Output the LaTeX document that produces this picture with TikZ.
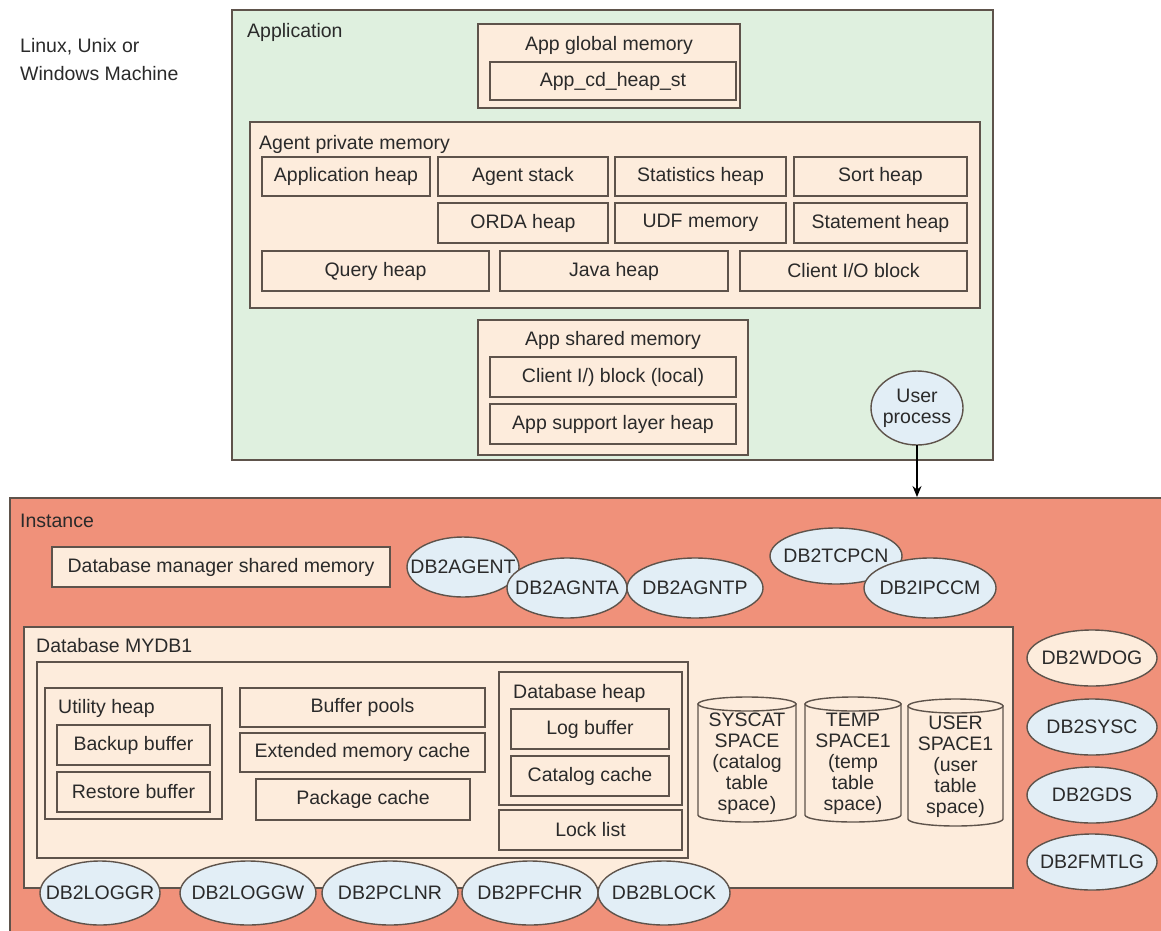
\documentclass[tikz,border=0pt]{standalone}
\usepackage{fontspec}
\setmainfont{Liberation Sans}
\usetikzlibrary{shapes.geometric,arrows.meta}
\definecolor{appgreen}{HTML}{DFF0DF}
\definecolor{peach}{HTML}{FDECDC}
\definecolor{salmon}{HTML}{F0917A}
\definecolor{procblue}{HTML}{E2EEF6}
\definecolor{edge}{HTML}{5E534B}
\definecolor{ink}{HTML}{2A2A2A}
\tikzset{
  txt/.style={font=\fontsize{19.5}{21}\selectfont, text=ink},
  box/.style={draw=edge, line width=1.4pt, fill=peach, inner sep=0pt, outer sep=0pt, txt},
  lbl/.style={anchor=base west, inner sep=0pt, txt},
  proc/.style={ellipse, draw=edge, line width=1.4pt, fill=procblue, inner sep=0pt, outer sep=0pt},
  cylbody/.style={draw=edge, line width=1.4pt, fill=peach},
}
% #1 opts, #2 name, #3 x1, #4 y1, #5 x2, #6 y2, #7 text
\newcommand\bx[7][]{\node[box,minimum width={#5-#3},minimum height={#6-#4},#1] (#2) at ({(#3+#5)/2},{(#4+#6)/2}) {#7};}
% #1 opts, #2 name, #3 cx, #4 cy, #5 rx, #6 ry, #7 text
\newcommand\pr[7][]{\node[proc,minimum width={2*#5},minimum height={2*#6},#1] (#2) at (#3,#4) {};
  \node[txt,inner sep=0pt,align=center] (#2-t) at (#2.center) {#7};}
% #1 name, #2 x1, #3 ytop, #4 x2, #5 ybot, #6 text
\newcommand\cyl[6]{%
  \path[cylbody] (#2,#3+7) -- (#2,#5-7) arc[start angle=180,end angle=360,x radius={(#4-#2)/2*1pt},y radius=7pt] -- (#4,#3+7) -- cycle;
  \draw[cylbody] ({(#2+#4)/2},#3+7) ellipse [x radius={(#4-#2)/2*1pt},y radius=7pt];
  \node[txt,inner sep=0pt,align=center] (#1) at ({(#2+#4)/2},{(#3+#5)/2+4}) {#6};}
\begin{document}
\begin{tikzpicture}[x=1pt,y=-1pt]
\useasboundingbox (0,0) rectangle (1161,930);
\clip (0,0) rectangle (1161,930);
\fill[white] (0,0) rectangle (1161,930);
% machine label
\node[lbl] (os1) at (20,52) {Linux, Unix or};
\node[lbl] (os2) at (20,80) {Windows Machine};
% application
\bx[fill=appgreen]{app}{232}{10}{993}{460}{}
\node[lbl] (appL) at (247,37) {Application};
\bx{glob}{478}{24}{740}{108}{}
\node[lbl,anchor=base] (globL) at (609,50) {App global memory};
\bx{cdheap}{490}{62}{736}{100}{App\_cd\_heap\_st}
\bx{apm}{250}{122}{980}{308}{}
\node[lbl] (apmL) at (259,149) {Agent private memory};
\bx{aheap}{262}{157}{430}{196}{Application heap}
\bx{astack}{438}{157}{608}{196}{Agent stack}
\bx{stat}{615}{157}{786}{196}{Statistics heap}
\bx{sort}{794}{157}{967}{196}{Sort heap}
\bx{orda}{438}{203}{608}{243}{ORDA heap}
\bx{udf}{615}{203}{786}{243}{UDF memory}
\bx{stmt}{794}{203}{967}{243}{Statement heap}
\bx{query}{262}{251}{489}{291}{Query heap}
\bx{java}{500}{251}{728}{291}{Java heap}
\bx{cio}{740}{251}{967}{291}{Client I/O block}
\bx{asm}{478}{320}{748}{455}{}
\node[lbl,anchor=base] (asmL) at (613,345) {App shared memory};
\bx{ciol}{490}{357}{736}{397}{Client I/) block (local)}
\bx{asl}{490}{404}{736}{444}{App support layer heap}
\pr{user}{917}{408}{46}{37}{User\\process}
% instance
\bx[fill=salmon]{inst}{10}{498}{1180}{945}{}
\coordinate (itop) at (917,497);
\draw[line width=1.3pt,-{Stealth[length=11pt,width=9pt]}] (user.south) -- (itop);
\node[lbl] (instL) at (20,527) {Instance};
\bx{dbm}{52}{547}{390}{587}{Database manager shared memory}
\pr{agent}{463}{567}{56}{30}{DB2AGENT}
\pr{agnta}{567}{588}{60}{30}{DB2AGNTA}
\pr{agntp}{695}{588}{68}{30}{DB2AGNTP}
\pr{tcpcn}{836}{556}{66}{28}{DB2TCPCN}
\pr{ipccm}{930}{588}{66}{30}{DB2IPCCM}
% database
\bx{db}{24}{627}{1013}{888}{}
\node[lbl] (dbL) at (36,652) {Database MYDB1};
\bx{mem}{37}{662}{688}{858}{}
\bx{util}{45}{688}{222}{819}{}
\node[lbl] (utilL) at (58,713) {Utility heap};
\bx{backup}{57}{725}{210}{765}{Backup buffer}
\bx{restore}{57}{772}{210}{812}{Restore buffer}
\bx{bpool}{240}{688}{485}{727}{Buffer pools}
\bx{emc}{240}{733}{485}{772}{Extended memory cache}
\bx{pkg}{256}{779}{470}{820}{Package cache}
\bx{dbheap}{499}{672}{682}{805}{}
\node[lbl] (dbheapL) at (513,698) {Database heap};
\bx{logbuf}{511}{709}{669}{749}{Log buffer}
\bx{catc}{511}{756}{669}{796}{Catalog cache}
\bx{lock}{499}{810}{682}{850}{Lock list}
\cyl{syscat}{698}{697}{796}{822}{SYSCAT\\SPACE\\(catalog\\table\\space)}
\cyl{temp}{805}{697}{901}{822}{TEMP\\SPACE1\\(temp\\table\\space)}
\cyl{usersp}{908}{699}{1003}{826}{USER\\SPACE1\\(user\\table\\space)}
% right processes
\pr[fill=peach]{wdog}{1092}{658}{65}{28}{DB2WDOG}
\pr{sysc}{1092}{727}{65}{28}{DB2SYSC}
\pr{gds}{1092}{795}{65}{28}{DB2GDS}
\pr{fmtlg}{1092}{862}{65}{28}{DB2FMTLG}
% bottom processes
\pr{loggr}{100}{893}{60}{32}{DB2LOGGR}
\pr{loggw}{248}{893}{68}{32}{DB2LOGGW}
\pr{pclnr}{390}{893}{68}{32}{DB2PCLNR}
\pr{pfchr}{530}{893}{68}{32}{DB2PFCHR}
\pr{block}{664}{893}{66}{32}{DB2BLOCK}
\end{tikzpicture}
\end{document}
